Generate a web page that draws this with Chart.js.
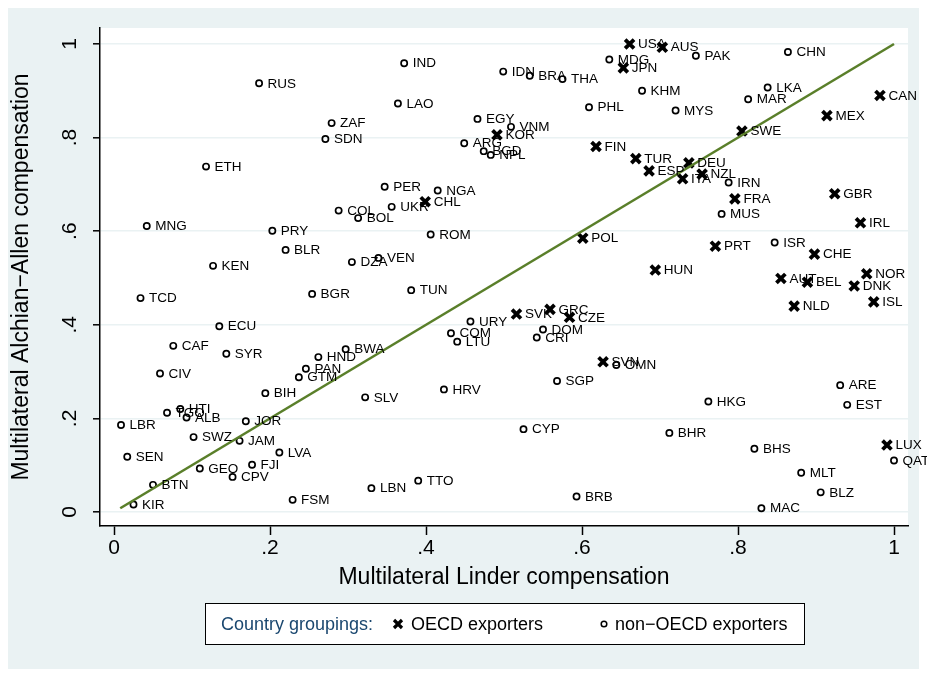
<!DOCTYPE html>
<html><head><meta charset="utf-8">
<script src="https://cdn.jsdelivr.net/npm/chart.js@4/dist/chart.umd.min.js"></script>
<style>html,body{margin:0;padding:0;background:#fff;}#c{display:block;}</style>
</head><body>
<canvas id="c" width="927" height="677"></canvas>
<script>
// ---- data ----
const oecdCodes = ["USA","AUS","JPN","CAN","MEX","SWE","KOR","FIN","TUR","DEU","ESP","NZL","ITA","GBR","FRA","CHL","IRL","POL","PRT","CHE","HUN","NOR","AUT","BEL","DNK","ISL","NLD","GRC","SVK","CZE","SVN","LUX"];
const oecdX = [0.661,0.703,0.653,0.982,0.914,0.805,0.491,0.618,0.669,0.737,0.686,0.754,0.729,0.924,0.796,0.399,0.957,0.601,0.771,0.898,0.694,0.965,0.855,0.889,0.949,0.974,0.872,0.559,0.516,0.584,0.627,0.991];
const oecdY = [1.000,0.993,0.949,0.890,0.847,0.814,0.806,0.781,0.755,0.746,0.729,0.722,0.712,0.680,0.669,0.663,0.618,0.585,0.568,0.551,0.517,0.509,0.499,0.491,0.483,0.449,0.440,0.433,0.423,0.416,0.321,0.143];

const nonOecdCodes = ["CHN","PAK","MDG","IND","IDN","BRA","THA","RUS","LKA","KHM","MAR","LAO","PHL","MYS","EGY","ZAF","VNM","SDN","ARG","BGD","NPL","ETH","IRN","PER","NGA","UKR","COL","MUS","BOL","MNG","PRY","ROM","ISR","BLR","VEN","DZA","KEN","TUN","BGR","TCD","URY","ECU","DOM","COM","CRI","LTU","CAF","BWA","SYR","HND","OMN","PAN","CIV","GTM","SGP","ARE","HRV","BIH","SLV","HKG","EST","HTI","TGO","ALB","JOR","LBR","CYP","BHR","SWZ","JAM","BHS","LVA","SEN","QAT","FJI","GEO","MLT","CPV","TTO","BTN","LBN","BLZ","BRB","FSM","KIR","MAC"];
const nonOecdX = [0.864,0.746,0.635,0.372,0.499,0.533,0.575,0.186,0.838,0.677,0.813,0.364,0.609,0.720,0.466,0.279,0.509,0.271,0.449,0.474,0.483,0.118,0.788,0.347,0.415,0.356,0.288,0.779,0.313,0.042,0.203,0.406,0.847,0.220,0.339,0.305,0.127,0.381,0.254,0.034,0.457,0.135,0.550,0.432,0.542,0.440,0.076,0.297,0.144,0.262,0.644,0.246,0.059,0.237,0.568,0.931,0.423,0.194,0.322,0.762,0.940,0.085,0.068,0.093,0.169,0.009,0.525,0.712,0.102,0.161,0.821,0.212,0.017,1.000,0.177,0.110,0.881,0.152,0.390,0.050,0.330,0.906,0.593,0.229,0.025,0.830];
const nonOecdY = [0.983,0.975,0.967,0.959,0.941,0.932,0.925,0.916,0.907,0.900,0.882,0.873,0.865,0.858,0.840,0.831,0.823,0.797,0.788,0.771,0.763,0.738,0.704,0.695,0.687,0.652,0.644,0.637,0.628,0.611,0.601,0.593,0.576,0.560,0.543,0.534,0.526,0.474,0.466,0.457,0.407,0.397,0.390,0.382,0.373,0.364,0.355,0.348,0.338,0.331,0.314,0.306,0.296,0.288,0.280,0.271,0.262,0.254,0.245,0.236,0.229,0.220,0.212,0.202,0.194,0.186,0.177,0.169,0.160,0.152,0.135,0.127,0.118,0.110,0.101,0.093,0.084,0.075,0.067,0.058,0.051,0.042,0.033,0.026,0.016,0.008];

const lineX = [0.008, 1.0];
const lineY = [0.008, 1.0];

const xTickValues = [0, 0.2, 0.4, 0.6, 0.8, 1];
const xTickLabels = ["0", ".2", ".4", ".6", ".8", "1"];
const yTickValues = [0, 0.2, 0.4, 0.6, 0.8, 1];
const yTickLabels = ["0", ".2", ".4", ".6", ".8", "1"];

const xTitle = "Multilateral Linder compensation";
const yTitle = "Multilateral Alchian\u2212Allen compensation";
const legendTitle = "Country groupings:";
const seriesNames = ["OECD exporters", "non\u2212OECD exporters"];

// ---- styling ----
const FONT = '"Liberation Sans", Arial, Helvetica, sans-serif';
const BG = '#eaf2f3';
const NAVY = '#1a476f';
const GREEN = '#5a7f2a';

const bgPlugin = {
  id: 'bg',
  beforeDraw(chart) {
    const ctx = chart.ctx, a = chart.chartArea;
    ctx.save();
    ctx.fillStyle = '#ffffff';
    ctx.fillRect(0, 0, chart.width, chart.height);
    ctx.fillStyle = BG;
    ctx.fillRect(8, 8, chart.width - 16, chart.height - 16);
    ctx.fillStyle = '#ffffff';
    ctx.fillRect(a.left, a.top, a.right - a.left, a.bottom - a.top);
    ctx.restore();
  }
};

const yLabelPlugin = {
  id: 'ylabels',
  afterDraw(chart) {
    const ctx = chart.ctx, ys = chart.scales.y;
    ctx.save();
    ctx.fillStyle = '#000';
    ctx.font = '21px ' + FONT;
    ctx.textAlign = 'center';
    ctx.textBaseline = 'middle';
    yTickValues.forEach((v, i) => {
      const py = ys.getPixelForValue(v);
      ctx.save();
      ctx.translate(70, py);
      ctx.rotate(-Math.PI / 2);
      ctx.fillText(yTickLabels[i], 0, 0);
      ctx.restore();
    });
    ctx.restore();
  }
};

const pointLabelPlugin = {
  id: 'plabels',
  afterDatasetsDraw(chart) {
    const ctx = chart.ctx;
    ctx.save();
    ctx.fillStyle = '#000';
    ctx.font = '13.5px ' + FONT;
    ctx.textAlign = 'left';
    ctx.textBaseline = 'middle';
    [[1, oecdCodes], [2, nonOecdCodes]].forEach(([di, codes]) => {
      const meta = chart.getDatasetMeta(di);
      meta.data.forEach((el, i) => {
        ctx.fillText(codes[i], el.x + 8.5, el.y + 0.5);
      });
    });
    ctx.restore();
  }
};

const legendPlugin = {
  id: 'stlegend',
  afterDraw(chart) {
    const ctx = chart.ctx;
    const bx = 205, by = 603, bw = 600, bh = 42, cy = by + bh / 2;
    ctx.save();
    ctx.fillStyle = '#fff';
    ctx.fillRect(bx, by, bw, bh);
    ctx.strokeStyle = '#000';
    ctx.lineWidth = 1;
    ctx.strokeRect(bx + 0.5, by + 0.5, bw - 1, bh - 1);
    ctx.font = '18px ' + FONT;
    ctx.textBaseline = 'middle';
    ctx.textAlign = 'left';
    ctx.fillStyle = NAVY;
    ctx.fillText(legendTitle, 221, cy + 1);
    // cross marker
    ctx.strokeStyle = '#000';
    ctx.lineWidth = 3.2;
    const cx1 = 398, r = 4;
    ctx.beginPath();
    ctx.moveTo(cx1 - r, cy - r); ctx.lineTo(cx1 + r, cy + r);
    ctx.moveTo(cx1 + r, cy - r); ctx.lineTo(cx1 - r, cy + r);
    ctx.stroke();
    ctx.fillStyle = '#000';
    ctx.fillText(seriesNames[0], 411, cy + 1);
    // circle marker
    ctx.lineWidth = 1.5;
    ctx.beginPath();
    ctx.arc(604, cy, 2.8, 0, Math.PI * 2);
    ctx.stroke();
    ctx.fillText(seriesNames[1], 615, cy + 1);
    ctx.restore();
  }
};

const cfg = {
  type: 'scatter',
  data: {
    datasets: [
      {
        type: 'line',
        label: 'fit',
        data: lineX.map((x, i) => ({ x: x, y: lineY[i] })),
        borderColor: GREEN,
        borderWidth: 2.6,
        pointRadius: 0,
        fill: false,
        tension: 0
      },
      {
        label: seriesNames[0],
        data: oecdX.map((x, i) => ({ x: x, y: oecdY[i] })),
        pointStyle: 'crossRot',
        pointRadius: 6.3,
        borderWidth: 3.8,
        borderColor: '#000',
        backgroundColor: '#000'
      },
      {
        label: seriesNames[1],
        data: nonOecdX.map((x, i) => ({ x: x, y: nonOecdY[i] })),
        pointStyle: 'circle',
        pointRadius: 3.1,
        borderWidth: 1.7,
        borderColor: '#000',
        backgroundColor: 'rgba(0,0,0,0)'
      }
    ]
  },
  options: {
    responsive: false,
    animation: false,
    devicePixelRatio: 1,
    layout: { padding: { left: 0, right: 19, top: 28, bottom: 0 } },
    plugins: { legend: { display: false }, tooltip: { enabled: false } },
    scales: {
      x: {
        type: 'linear',
        min: -14 / 780,
        max: 794 / 780,
        afterBuildTicks: s => { s.ticks = xTickValues.map(v => ({ value: v })); },
        afterFit: s => { s.height = 151; },
        grid: { drawOnChartArea: false, drawTicks: true, tickLength: 9, tickColor: '#000', tickWidth: 1.5 },
        border: { display: true, color: '#000', width: 1.5 },
        ticks: {
          padding: 1, color: '#000', maxRotation: 0, autoSkip: false,
          font: { family: FONT, size: 21 },
          callback: (v, i) => xTickLabels[i]
        },
        title: {
          display: true, text: xTitle, color: '#000',
          font: { family: FONT, size: 23 },
          padding: { top: 0, bottom: 86 }
        }
      },
      y: {
        type: 'linear',
        min: (512 - 526) / 468,
        max: (512 - 28) / 468,
        afterBuildTicks: s => { s.ticks = yTickValues.map(v => ({ value: v })); },
        afterFit: s => { s.width = 100; },
        grid: { color: BG, lineWidth: 1.6, drawTicks: true, tickLength: 7, tickColor: '#000', tickWidth: 1.5 },
        border: { display: true, color: '#000', width: 1.5 },
        ticks: { display: false },
        title: {
          display: true, text: yTitle, color: '#000',
          font: { family: FONT, size: 23 },
          padding: { top: 8, bottom: 0 }
        }
      }
    }
  },
  plugins: [bgPlugin, pointLabelPlugin, yLabelPlugin, legendPlugin]
};

new Chart(document.getElementById('c'), cfg);
</script>
</body></html>
